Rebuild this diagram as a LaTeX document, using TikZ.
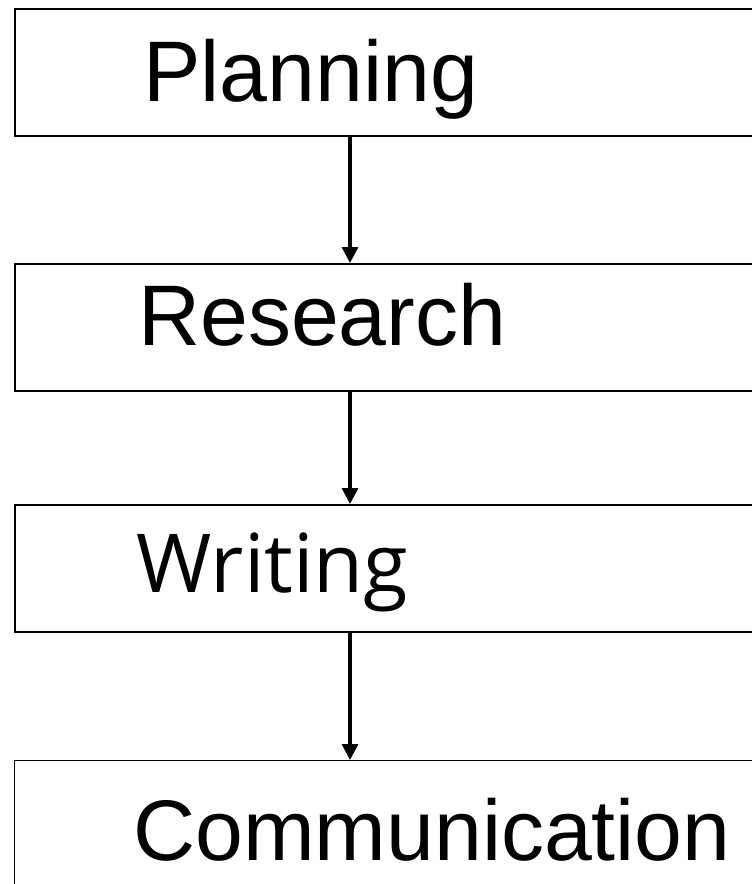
\documentclass[tikz,border=0pt]{standalone}
\usepackage{fontspec}
\setmainfont{Liberation Sans}
\newfontfamily\writfont{Open Sans}
\usetikzlibrary{arrows.meta}
\tikzset{
  stage/.style={draw, line width=1.5pt, anchor=north west, minimum width=559.5pt, minimum height=95.25pt, inner sep=0pt},
  stagetext/.style={anchor=base west, inner sep=0pt, font=\fontsize{64.5}{72}\selectfont},
  flow/.style={-{Triangle[width=12pt,length=12pt]}, line width=2.4pt}
}
\begin{document}
\begin{tikzpicture}[x=0.75pt,y=-0.75pt]
\useasboundingbox (0,0) rectangle (751,884);
% boxes
\node[stage] (plan) at (14,8) {};
\node[stage] (res) at (14,263) {};
\node[stage] (writ) at (14,504) {};
\node[stage, line width=1.1pt] (comm) at (14,760) {};
% labels
\node[stagetext] (plantext) at (143,102) {Planning};
\node[stagetext] (restext) at (138,345) {Research};
\node[stagetext, font=\fontsize{61}{70}\writfont] (writtext) at (136,592) {Writing};
\node[stagetext] (commtext) at (133,860) {Communication};
% arrows
\draw[flow] ([xshift=252pt]plan.south west) -- ([xshift=252pt]res.north west);
\draw[flow] ([xshift=252pt]res.south west) -- ([xshift=252pt]writ.north west);
\draw[flow] ([xshift=252pt]writ.south west) -- ([xshift=252pt]comm.north west);
\end{tikzpicture}
\end{document}
